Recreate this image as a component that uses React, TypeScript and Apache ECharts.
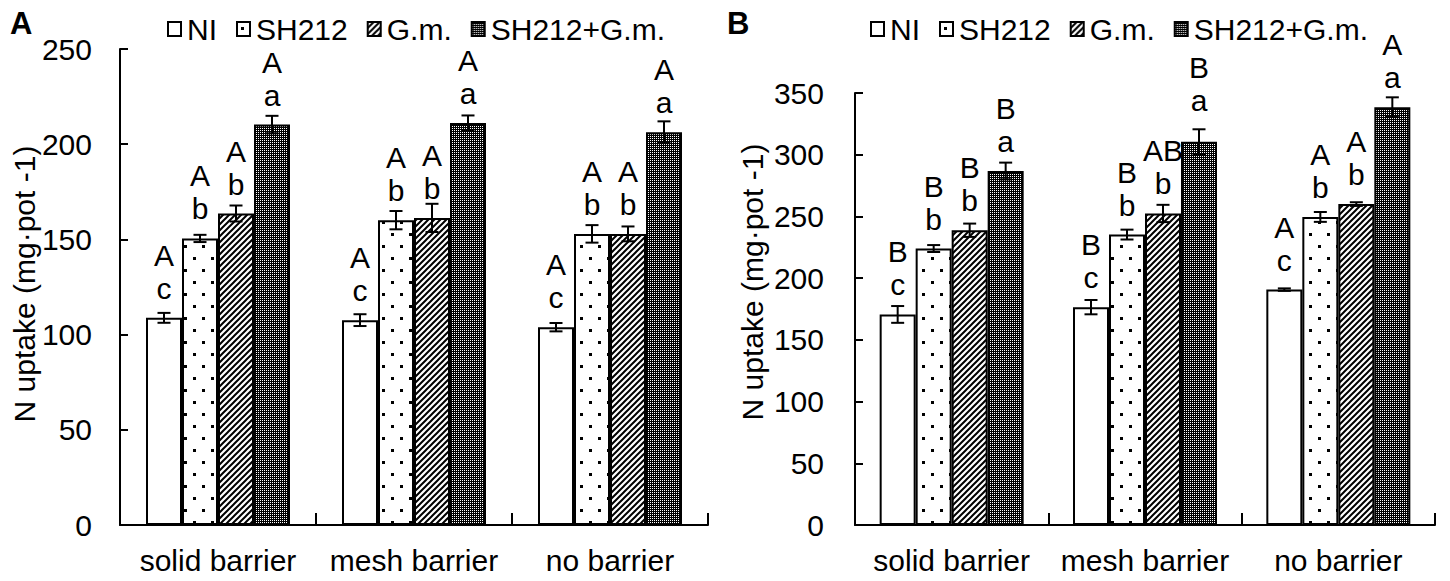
import React, { useEffect, useRef } from "react";
import * as echarts from "echarts";

// ---------- data ----------
const categories = ["solid barrier", "mesh barrier", "no barrier"];
const seriesNames = ["NI", "SH212", "G.m.", "SH212+G.m."];

// Panel A: N uptake (mg·pot -1)
const aNI = [108.8, 107.6, 103.9];
const aSH212 = [150.5, 160.1, 152.9];
const aGm = [163.6, 161.3, 152.9];
const aMix = [210.3, 211.2, 206.3];
const aErrNI = [2.6, 3.1, 2.2];
const aErrSH212 = [1.9, 4.8, 4.6];
const aErrGm = [4.2, 7.4, 3.9];
const aErrMix = [4.6, 3.9, 5.7];
const aUpperNI = ["A", "A", "A"];
const aUpperSH212 = ["A", "A", "A"];
const aUpperGm = ["A", "A", "A"];
const aUpperMix = ["A", "A", "A"];
const aLowerNI = ["c", "c", "c"];
const aLowerSH212 = ["b", "b", "b"];
const aLowerGm = ["b", "b", "b"];
const aLowerMix = ["a", "a", "a"];
const aYTicks = [0, 50, 100, 150, 200, 250];

// Panel B
const bNI = [170.6, 176.5, 190.7];
const bSH212 = [224.0, 235.3, 249.6];
const bGm = [238.8, 252.4, 260.0];
const bMix = [286.8, 310.6, 338.5];
const bErrNI = [6.8, 5.8, 1.0];
const bErrSH212 = [2.8, 4.0, 4.0];
const bErrGm = [5.4, 7.0, 1.5];
const bErrMix = [6.8, 10.0, 8.0];
const bUpperNI = ["B", "B", "A"];
const bUpperSH212 = ["B", "B", "A"];
const bUpperGm = ["B", "AB", "A"];
const bUpperMix = ["B", "B", "A"];
const bLowerNI = ["c", "c", "c"];
const bLowerSH212 = ["b", "b", "b"];
const bLowerGm = ["b", "b", "b"];
const bLowerMix = ["a", "a", "a"];
const bYTicks = [0, 50, 100, 150, 200, 250, 300, 350];

const yTitle = "N uptake (mg\u00B7pot -1)";

// ---------- styling ----------
const FONT = "'Liberation Sans', Arial, Helvetica, sans-serif";
const BAR_W = 36;

function makeTile(w: number, h: number, draw: (ctx: CanvasRenderingContext2D) => void) {
  const c = document.createElement("canvas");
  c.width = w;
  c.height = h;
  const ctx = c.getContext("2d") as CanvasRenderingContext2D;
  ctx.fillStyle = "#ffffff";
  ctx.fillRect(0, 0, w, h);
  draw(ctx);
  return { image: c.toDataURL(), repeat: "repeat", imageWidth: w, imageHeight: h } as any;
}

function makePatterns() {
  const white = "#ffffff";
  const dots = makeTile(18, 24, (ctx) => {
    ctx.fillStyle = "#000";
    ctx.fillRect(4, 5, 3, 3);
    ctx.fillRect(13, 17, 3, 3);
  });
  const hatch = makeTile(6, 6, (ctx) => {
    ctx.strokeStyle = "#000";
    ctx.lineWidth = 2;
    ctx.beginPath();
    ctx.moveTo(-1, 7);
    ctx.lineTo(7, -1);
    ctx.moveTo(-4, 4);
    ctx.lineTo(4, -4);
    ctx.moveTo(2, 10);
    ctx.lineTo(10, 2);
    ctx.stroke();
  });
  const checker = makeTile(2, 2, (ctx) => {
    ctx.fillStyle = "#000";
    ctx.fillRect(0, 0, 2, 2);
    ctx.fillStyle = "#ffffff";
    ctx.fillRect(0, 0, 1, 1);
  });
  return [white, dots, hatch, checker];
}

type Panel = {
  values: number[][];
  errors: number[][];
  upper: string[][];
  lower: string[][];
  ticks: number[];
};

const panels: Panel[] = [
  {
    values: [aNI, aSH212, aGm, aMix],
    errors: [aErrNI, aErrSH212, aErrGm, aErrMix],
    upper: [aUpperNI, aUpperSH212, aUpperGm, aUpperMix],
    lower: [aLowerNI, aLowerSH212, aLowerGm, aLowerMix],
    ticks: aYTicks,
  },
  {
    values: [bNI, bSH212, bGm, bMix],
    errors: [bErrNI, bErrSH212, bErrGm, bErrMix],
    upper: [bUpperNI, bUpperSH212, bUpperGm, bUpperMix],
    lower: [bLowerNI, bLowerSH212, bLowerGm, bLowerMix],
    ticks: bYTicks,
  },
];

function buildOption() {
  const patterns = makePatterns();
  const grids = [
    { left: 120, top: 49, width: 588, height: 476 },
    { left: 855, top: 93, width: 580, height: 432 },
  ];
  const labelMargins = [28, 31];

  const xAxis: any[] = [];
  const yAxis: any[] = [];
  const series: any[] = [];

  panels.forEach((p, pi) => {
    xAxis.push({
      type: "category",
      gridIndex: pi,
      data: categories,
      axisLine: { lineStyle: { color: "#000", width: 2 } },
      axisTick: { show: true, inside: true, length: 12, lineStyle: { color: "#000", width: 2 } },
      axisLabel: {
        color: "#000",
        fontSize: 30,
        fontFamily: FONT,
        margin: 20,
        interval: 0,
        hideOverlap: false,
      },
      splitLine: { show: false },
    });
    const step = p.ticks[1] - p.ticks[0];
    yAxis.push({
      type: "value",
      gridIndex: pi,
      min: p.ticks[0],
      max: p.ticks[p.ticks.length - 1],
      interval: step,
      axisLine: { show: true, lineStyle: { color: "#000", width: 2 } },
      axisTick: { show: true, inside: true, length: 8, lineStyle: { color: "#000", width: 2 } },
      axisLabel: { color: "#000", fontSize: 30, fontFamily: FONT, margin: labelMargins[pi] },
      splitLine: { show: false },
    });

    p.values.forEach((vals, si) => {
      series.push({
        type: "bar",
        name: seriesNames[si],
        xAxisIndex: pi,
        yAxisIndex: pi,
        barWidth: BAR_W,
        barGap: "0%",
        itemStyle: { color: patterns[si], borderColor: "#000", borderWidth: 2 },
        data: vals.map((v, ci) => {
          // one label in panel B was lifted above its error bar in the original
          if (pi === 1 && si === 3 && ci === 1) {
            return { value: v, label: { distance: 25 } };
          }
          return v;
        }),
        label: {
          show: true,
          position: "top",
          distance: 13,
          color: "#000",
          fontSize: 30,
          lineHeight: 33,
          fontFamily: FONT,
          formatter: (prm: any) => p.upper[si][prm.dataIndex] + "\n" + p.lower[si][prm.dataIndex],
        },
        z: 2,
      });
    });

    const errData: number[][] = [];
    p.values.forEach((vals, si) => {
      vals.forEach((v, ci) => errData.push([ci, si, v, p.errors[si][ci]]));
    });
    series.push({
      type: "custom",
      xAxisIndex: pi,
      yAxisIndex: pi,
      data: errData,
      encode: { x: 0, y: 2 },
      z: 5,
      silent: true,
      renderItem: (params: any, api: any) => {
        const ci = api.value(0);
        const si = api.value(1);
        const v = api.value(2);
        const e = api.value(3);
        const c = api.coord([ci, v]);
        const x = c[0] + (si - 1.5) * BAR_W;
        const yTop = api.coord([ci, v + e])[1];
        const yBot = api.coord([ci, v - e])[1];
        const hw = 6.5;
        const st = { stroke: "#000", lineWidth: 2 };
        return {
          type: "group",
          children: [
            { type: "line", shape: { x1: x, y1: yTop, x2: x, y2: yBot }, style: st },
            { type: "line", shape: { x1: x - hw, y1: yTop, x2: x + hw, y2: yTop }, style: st },
            { type: "line", shape: { x1: x - hw, y1: yBot, x2: x + hw, y2: yBot }, style: st },
          ],
        };
      },
    });
  });

  const legendBase = {
    top: 9,
    orient: "horizontal",
    icon: "rect",
    itemWidth: 13,
    itemHeight: 14,
    itemGap: 19,
    data: seriesNames,
    selectedMode: false,
    itemStyle: { borderColor: "#000", borderWidth: 2 },
    textStyle: { color: "#000", fontSize: 30, fontFamily: FONT, padding: [0, 0, 0, 1] },
  };

  const letterStyle = (t: string) => ({
    text: t,
    fontSize: 31,
    fontWeight: "bold",
    fontFamily: FONT,
    fill: "#000",
    textVerticalAlign: "middle",
  });
  const titleStyle = {
    text: yTitle,
    fontSize: 30,
    fontFamily: FONT,
    fill: "#000",
    textAlign: "center",
    textVerticalAlign: "middle",
  };

  return {
    animation: false,
    backgroundColor: "#ffffff",
    textStyle: { fontFamily: FONT },
    grid: grids.map((g) => ({ ...g, containLabel: false })),
    legend: [
      { ...legendBase, left: 162 },
      { ...legendBase, left: 865 },
    ],
    xAxis,
    yAxis,
    series,
    graphic: [
      { type: "text", x: 10, y: 23, style: letterStyle("A") },
      { type: "text", x: 727, y: 23, style: letterStyle("B") },
      { type: "text", x: 24, y: 284, rotation: Math.PI / 2, style: titleStyle },
      { type: "text", x: 752, y: 282, rotation: Math.PI / 2, style: titleStyle },
    ],
  };
}

export default function App() {
  const ref = useRef<HTMLDivElement>(null);
  useEffect(() => {
    document.body.style.margin = "0";
    if (!ref.current) return;
    const chart = echarts.init(ref.current, undefined, { renderer: "svg" });
    chart.setOption(buildOption() as any);
    return () => chart.dispose();
  }, []);
  return <div ref={ref} style={{ width: 1450, height: 581, background: "#fff" }} />;
}
